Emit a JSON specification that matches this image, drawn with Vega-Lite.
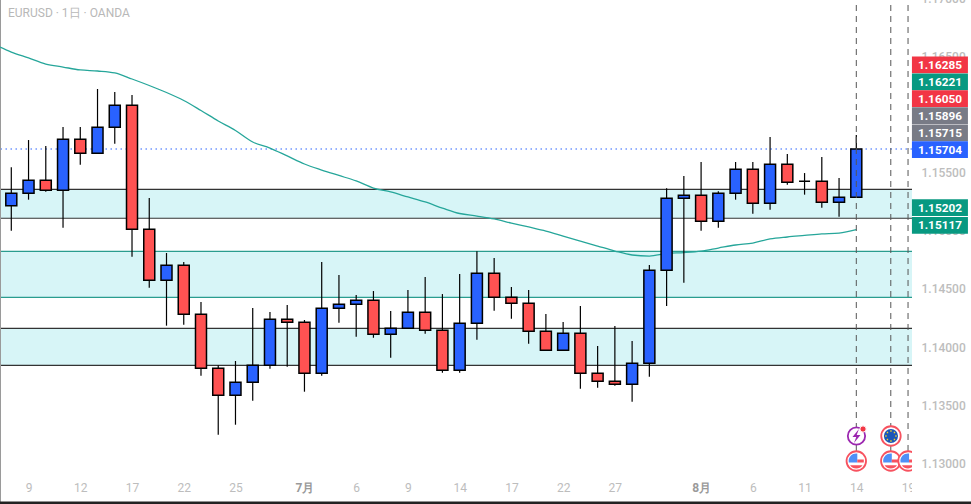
{
"$schema":"https://vega.github.io/schema/vega-lite/v6.json",
"width":912,"height":510,"autosize":{"type":"none"},"padding":{"left":0,"top":-6,"right":59,"bottom":0},
"background":"#ffffff","view":{"stroke":null},
"title":{"text":"EURUSD · 1日 · OANDA","anchor":"start","frame":"group","offset":-28,"dx":8,"font":"Roboto","fontSize":12,"fontWeight":"normal","color":"#b8b8b8"},
"datasets":{
"candles":[
{"i":0,"open":1.15216,"high":1.15546,"low":1.15001,"close":1.15323},
{"i":1,"open":1.15323,"high":1.15781,"low":1.15268,"close":1.15435},
{"i":2,"open":1.15435,"high":1.1573,"low":1.15337,"close":1.15349},
{"i":3,"open":1.15349,"high":1.15893,"low":1.15027,"close":1.15787},
{"i":4,"open":1.15787,"high":1.15893,"low":1.15569,"close":1.15667},
{"i":5,"open":1.15667,"high":1.1622,"low":1.15667,"close":1.15891},
{"i":6,"open":1.15891,"high":1.16194,"low":1.15749,"close":1.1608},
{"i":7,"open":1.1608,"high":1.16168,"low":1.14777,"close":1.15013},
{"i":8,"open":1.15013,"high":1.15282,"low":1.14511,"close":1.14574},
{"i":9,"open":1.14574,"high":1.14809,"low":1.14184,"close":1.14703},
{"i":10,"open":1.14703,"high":1.14732,"low":1.14192,"close":1.14282},
{"i":11,"open":1.14282,"high":1.14388,"low":1.13754,"close":1.13817},
{"i":12,"open":1.13817,"high":1.13843,"low":1.13246,"close":1.13585},
{"i":13,"open":1.13585,"high":1.1388,"low":1.13332,"close":1.13697},
{"i":14,"open":1.13697,"high":1.14336,"low":1.13539,"close":1.13843},
{"i":15,"open":1.13843,"high":1.14302,"low":1.13814,"close":1.14239},
{"i":16,"open":1.14239,"high":1.14362,"low":1.13831,"close":1.14213},
{"i":17,"open":1.14213,"high":1.14233,"low":1.13616,"close":1.13774},
{"i":18,"open":1.13774,"high":1.14732,"low":1.13754,"close":1.14333},
{"i":19,"open":1.14333,"high":1.1462,"low":1.1421,"close":1.14368},
{"i":20,"open":1.14368,"high":1.14448,"low":1.14089,"close":1.14402},
{"i":21,"open":1.14402,"high":1.14482,"low":1.1408,"close":1.1411},
{"i":22,"open":1.1411,"high":1.1431,"low":1.13908,"close":1.14161},
{"i":23,"open":1.14161,"high":1.14491,"low":1.14161,"close":1.14299},
{"i":24,"open":1.14299,"high":1.14603,"low":1.14115,"close":1.14144},
{"i":25,"open":1.14144,"high":1.14456,"low":1.13779,"close":1.138},
{"i":26,"open":1.138,"high":1.14629,"low":1.13779,"close":1.14204},
{"i":27,"open":1.14204,"high":1.14824,"low":1.14063,"close":1.14635},
{"i":28,"open":1.14635,"high":1.14766,"low":1.14313,"close":1.14428},
{"i":29,"open":1.14428,"high":1.14517,"low":1.14244,"close":1.14376},
{"i":30,"open":1.14376,"high":1.14491,"low":1.14029,"close":1.14136},
{"i":31,"open":1.14136,"high":1.14284,"low":1.13972,"close":1.13972},
{"i":32,"open":1.13972,"high":1.14216,"low":1.13972,"close":1.14118},
{"i":33,"open":1.14118,"high":1.14353,"low":1.13642,"close":1.13774},
{"i":34,"open":1.13774,"high":1.14009,"low":1.1365,"close":1.13705},
{"i":35,"open":1.13705,"high":1.14181,"low":1.13668,"close":1.1368},
{"i":36,"open":1.1368,"high":1.14052,"low":1.1353,"close":1.1386},
{"i":37,"open":1.1386,"high":1.14706,"low":1.13745,"close":1.1466},
{"i":38,"open":1.1466,"high":1.15366,"low":1.14353,"close":1.1528},
{"i":39,"open":1.1528,"high":1.15472,"low":1.14554,"close":1.15306},
{"i":40,"open":1.15306,"high":1.15592,"low":1.15001,"close":1.15082},
{"i":41,"open":1.15082,"high":1.1534,"low":1.15027,"close":1.15323},
{"i":42,"open":1.15323,"high":1.15592,"low":1.15268,"close":1.15529},
{"i":43,"open":1.15529,"high":1.15592,"low":1.15147,"close":1.15237},
{"i":44,"open":1.15237,"high":1.15807,"low":1.15182,"close":1.15572},
{"i":45,"open":1.15572,"high":1.15661,"low":1.15397,"close":1.15417},
{"i":46,"open":1.15426,"high":1.15497,"low":1.15311,"close":1.15426},
{"i":47,"open":1.15426,"high":1.15635,"low":1.15199,"close":1.15245},
{"i":48,"open":1.15245,"high":1.15454,"low":1.15121,"close":1.15288},
{"i":49,"open":1.15288,"high":1.15824,"low":1.15288,"close":1.15704}
],
"ema":[
{"i":-0.655,"v":1.16581},{"i":0,"v":1.16538},{"i":1,"v":1.16487},{"i":2,"v":1.16435},{"i":3,"v":1.16409},{"i":4,"v":1.16384},{"i":5,"v":1.16375},{"i":6,"v":1.16358},{"i":7,"v":1.16306},{"i":8,"v":1.1625},{"i":9,"v":1.1619},{"i":10,"v":1.16121},{"i":11,"v":1.16035},{"i":12,"v":1.15945},{"i":13,"v":1.15863},{"i":14,"v":1.15764},{"i":15,"v":1.15712},{"i":16,"v":1.15644},{"i":17,"v":1.15575},{"i":18,"v":1.15523},{"i":19,"v":1.15476},{"i":20,"v":1.15429},{"i":21,"v":1.15368},{"i":22,"v":1.15334},{"i":23,"v":1.15291},{"i":24,"v":1.15248},{"i":25,"v":1.15196},{"i":26,"v":1.15149},{"i":27,"v":1.15127},{"i":28,"v":1.15102},{"i":29,"v":1.15067},{"i":30,"v":1.15033},{"i":31,"v":1.14998},{"i":32,"v":1.14955},{"i":33,"v":1.14912},{"i":34,"v":1.14869},{"i":35,"v":1.14826},{"i":36,"v":1.14792},{"i":37,"v":1.14783},{"i":38,"v":1.14805},{"i":39,"v":1.14813},{"i":40,"v":1.14826},{"i":41,"v":1.14852},{"i":42,"v":1.14878},{"i":43,"v":1.14895},{"i":44,"v":1.1493},{"i":45,"v":1.14947},{"i":46,"v":1.1496},{"i":47,"v":1.14973},{"i":48,"v":1.14981},{"i":49,"v":1.15011}
],
"zones":[
{"top":1.15357,"bottom":1.15108,"group":"dark"},
{"top":1.14824,"bottom":1.14428,"group":"teal"},
{"top":1.14161,"bottom":1.13843,"group":"dark"}
],
"badges":[
{"label":"1.16285","at":1.16427,"kind":"red"},
{"label":"1.16221","at":1.16281,"kind":"green"},
{"label":"1.16050","at":1.16137,"kind":"red"},
{"label":"1.15896","at":1.15991,"kind":"gray"},
{"label":"1.15715","at":1.15842,"kind":"gray"},
{"label":"1.15704","at":1.15699,"kind":"blue"},
{"label":"1.15202","at":1.15199,"kind":"green"},
{"label":"1.15117","at":1.15047,"kind":"green"}
],
"events":[
{"i":49,"p":1.1302,"cur":"US"},{"i":51,"p":1.1302,"cur":"US"},{"i":52,"p":1.1302,"cur":"US"},
{"i":51.01,"p":1.13235,"cur":"EU"},{"i":49.01,"p":1.13235,"cur":"alert"}
]
},
"layer":[
{"data":{"name":"zones"},"mark":{"type":"rect","color":"#d7f5f7"},
 "encoding":{
  "y":{"field":"top","type":"quantitative","scale":{"domain":[1.126499,1.170373],"nice":false,"zero":false},
   "axis":{"orient":"right","title":null,"values":[1.13,1.135,1.14,1.145,1.15,1.155,1.16,1.165,1.17],"format":".5f","domain":false,"ticks":false,"grid":false,"labelPadding":9,"labelFont":"Roboto","labelFontSize":12,"labelFontWeight":500,"labelColor":"#bdbdbd","labelBound":false,"labelFlush":false,"labelOverlap":false}},
  "y2":{"field":"bottom"}}},
{"data":{"name":"zones"},"mark":{"type":"rule","strokeWidth":1.2},
 "encoding":{"y":{"field":"top","type":"quantitative"},"stroke":{"condition":{"test":"datum.group=='teal'","value":"#2a9d8f"},"value":"#333333"}}},
{"data":{"name":"zones"},"mark":{"type":"rule","strokeWidth":1.2},
 "encoding":{"y":{"field":"bottom","type":"quantitative"},"stroke":{"condition":{"test":"datum.group=='teal'","value":"#2a9d8f"},"value":"#333333"}}},
{"data":{"values":[{"last":1.15704}]},"mark":{"type":"rule","stroke":"#2962ff","strokeWidth":1.2,"strokeDash":[1.5,3.5]},
 "encoding":{"y":{"field":"last","type":"quantitative"}}},
{"data":{"values":[{"i":-0.655}]},"mark":{"type":"rule","stroke":"#9a9a9a","strokeWidth":2},
 "encoding":{"x":{"field":"i","type":"quantitative"}}},
{"data":{"name":"ema"},"mark":{"type":"line","stroke":"#26a69a","strokeWidth":1.3,"interpolate":"monotone"},
 "encoding":{
  "x":{"field":"i","type":"quantitative","scale":{"domain":[-0.655,52.23],"nice":false,"zero":false,"padding":0},
   "axis":{"orient":"bottom","title":null,"offset":-17,"values":[1,4,7,10,13,17,20,23,26,29,32,35,40,43,46,49,52],
    "labelExpr":"{'1':'9','4':'12','7':'17','10':'22','13':'25','17':'7月','20':'6','23':'9','26':'14','29':'17','32':'22','35':'27','40':'8月','43':'6','46':'11','49':'14','52':'19'}[datum.value]",
    "domain":false,"ticks":false,"grid":false,"labelPadding":0,"labelAngle":0,"labelBaseline":"middle","labelAlign":"center","labelFont":"Roboto","labelFontSize":12,"labelBound":false,"labelFlush":false,"labelOverlap":false,
    "labelColor":{"condition":{"test":"datum.value==17||datum.value==40","value":"#9a9a9a"},"value":"#bdbdbd"},
    "labelFontWeight":{"condition":{"test":"datum.value==17||datum.value==40","value":"bold"},"value":"normal"}}},
  "y":{"field":"v","type":"quantitative"}}},
{"data":{"name":"candles"},"mark":{"type":"rule","stroke":"#000000","strokeWidth":1.2},
 "encoding":{"x":{"field":"i","type":"quantitative"},"y":{"field":"low","type":"quantitative"},"y2":{"field":"high"}}},
{"data":{"name":"candles"},"mark":{"type":"bar","size":11,"stroke":"#000000","strokeWidth":1.5},
 "encoding":{"x":{"field":"i","type":"quantitative"},"y":{"field":"open","type":"quantitative"},"y2":{"field":"close"},
  "fill":{"condition":{"test":"datum.close>datum.open","value":"#2962ff"},"value":"#ff5252"}}},
{"data":{"values":[{"i":49,"from":1.170373,"to":1.1302},{"i":51,"from":1.170373,"to":1.1302},{"i":52,"from":1.170373,"to":1.1302}]},
 "mark":{"type":"rule","stroke":"#555555","strokeWidth":1,"strokeDash":[6,5]},
 "encoding":{"x":{"field":"i","type":"quantitative"},"y":{"field":"from","type":"quantitative"},"y2":{"field":"to"}}},
{"data":{"name":"events"},"transform":[{"filter":"datum.cur!='alert'"}],"mark":{"type":"point","shape":"circle","filled":true,"fill":"#ffffff","stroke":"#f7525f","strokeWidth":1.8,"size":380,"opacity":1,"clip":true},
 "encoding":{"x":{"field":"i","type":"quantitative"},"y":{"field":"p","type":"quantitative"}}},
{"data":{"name":"events"},"transform":[{"filter":"datum.cur=='US'"}],"mark":{"type":"point","shape":"M-0.75,0.15A0.75,0.75 0 0 1 0.1,-0.74L0.1,0.15Z","filled":true,"fill":"#4f8ff7","stroke":null,"size":400,"opacity":1,"clip":true},
 "encoding":{"x":{"field":"i","type":"quantitative"},"y":{"field":"p","type":"quantitative"}}},
{"data":{"name":"events"},"transform":[{"filter":"datum.cur=='US'"}],"mark":{"type":"point","shape":"M0.1,-0.15H0.75V0.15H0.1ZM-0.62,0.42H0.62A0.75,0.75 0 0 1 -0.62,0.42Z","filled":true,"fill":"#f7525f","stroke":null,"size":400,"opacity":1,"clip":true},
 "encoding":{"x":{"field":"i","type":"quantitative"},"y":{"field":"p","type":"quantitative"}}},
{"data":{"name":"events"},"transform":[{"filter":"datum.cur=='EU'"}],"mark":{"type":"point","shape":"circle","filled":true,"fill":"#1a56b8","stroke":null,"size":200,"opacity":1},
 "encoding":{"x":{"field":"i","type":"quantitative"},"y":{"field":"p","type":"quantitative"}}},
{"data":{"name":"events"},"transform":[{"filter":"datum.cur=='EU'"}],"mark":{"type":"point","shape":"M-0.07,-0.57h0.14v0.14h-0.14ZM-0.07,0.43h0.14v0.14h-0.14ZM-0.57,-0.07h0.14v0.14h-0.14ZM0.43,-0.07h0.14v0.14h-0.14ZM0.28,-0.42h0.14v0.14h-0.14ZM-0.42,-0.42h0.14v0.14h-0.14ZM0.28,0.28h0.14v0.14h-0.14ZM-0.42,0.28h0.14v0.14h-0.14Z","filled":true,"fill":"#f5d020","stroke":null,"size":400,"opacity":1},
 "encoding":{"x":{"field":"i","type":"quantitative"},"y":{"field":"p","type":"quantitative"}}},
{"data":{"name":"events"},"transform":[{"filter":"datum.cur=='alert'"}],"mark":{"type":"point","shape":"circle","filled":true,"fill":"#ffffff","stroke":"#9c27b0","strokeWidth":1.8,"size":300,"opacity":1},
 "encoding":{"x":{"field":"i","type":"quantitative"},"y":{"field":"p","type":"quantitative"}}},
{"data":{"name":"events"},"transform":[{"filter":"datum.cur=='alert'"}],"mark":{"type":"point","shape":"M0.25,-0.7L-0.4,0.1H-0.02L-0.25,0.7L0.4,-0.1H0.02Z","filled":true,"fill":"#9c27b0","stroke":null,"size":400,"opacity":1},
 "encoding":{"x":{"field":"i","type":"quantitative"},"y":{"field":"p","type":"quantitative"}}},
{"data":{"values":[{"i":49.39,"p":1.13295}]},"mark":{"type":"point","shape":"circle","filled":true,"fill":"#f23645","stroke":"#ffffff","strokeWidth":1,"size":40,"opacity":1},
 "encoding":{"x":{"field":"i","type":"quantitative"},"y":{"field":"p","type":"quantitative"}}},
{"data":{"values":[{"a":52.23,"b":55.65,"p0":1.12672,"p1":1.1285}]},"mark":{"type":"rect","color":"#ffffff"},
 "encoding":{"x":{"field":"a","type":"quantitative"},"x2":{"field":"b"},"y":{"field":"p0","type":"quantitative"},"y2":{"field":"p1"}}},
{"data":{"values":[{"a":-0.655,"b":55.65,"p0":1.12672,"p1":1.1265}]},"mark":{"type":"rect","color":"#222222"},
 "encoding":{"x":{"field":"a","type":"quantitative"},"x2":{"field":"b"},"y":{"field":"p0","type":"quantitative"},"y2":{"field":"p1"}}},
{"data":{"name":"badges"},"transform":[{"calculate":"53.85","as":"cx"}],"mark":{"type":"point","shape":"M-1,-0.3H1V0.3H-1Z","filled":true,"size":3136,"opacity":1,"stroke":null},
 "encoding":{"x":{"field":"cx","type":"quantitative"},"y":{"field":"at","type":"quantitative"},
  "fill":{"field":"kind","type":"nominal","legend":null,"scale":{"domain":["red","green","gray","blue"],"range":["#f23645","#089981","#787b86","#2962ff"]}}}},
{"data":{"name":"badges"},"transform":[{"calculate":"53.85","as":"cx"}],"mark":{"type":"text","color":"#ffffff","font":"Roboto","fontSize":11.8,"fontWeight":"bold","align":"center","baseline":"middle"},
 "encoding":{"x":{"field":"cx","type":"quantitative"},"y":{"field":"at","type":"quantitative"},"text":{"field":"label"}}}
]
}
